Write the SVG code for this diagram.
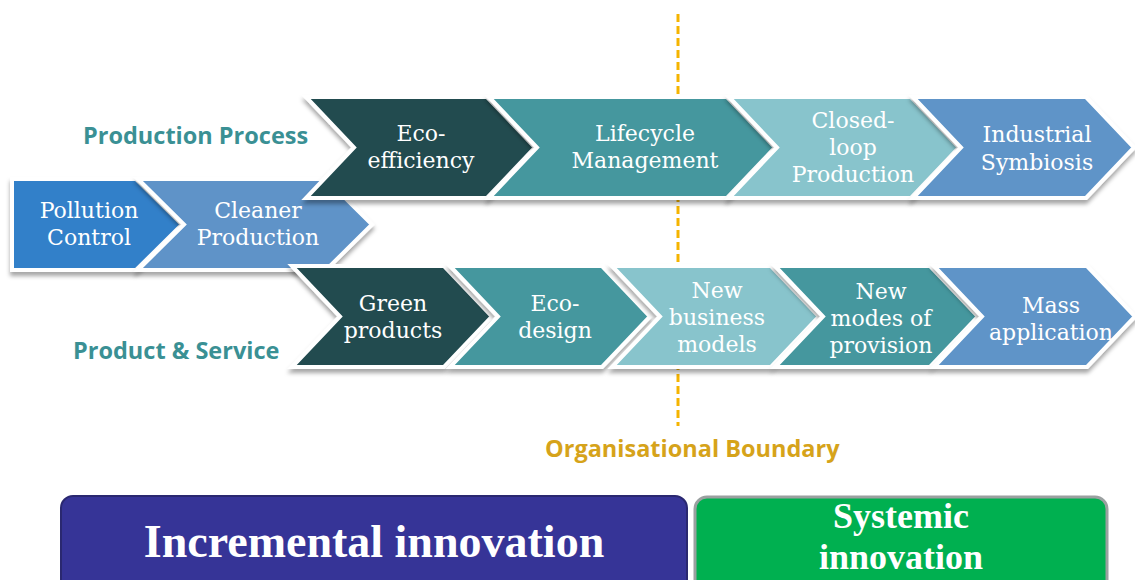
<svg xmlns="http://www.w3.org/2000/svg" width="1135" height="580" viewBox="0 0 1135 580">
<defs>
<filter id="sh" x="-10%" y="-20%" width="120%" height="150%">
<feDropShadow dx="0" dy="4" stdDeviation="2" flood-color="#000" flood-opacity="0.35"/>
</filter>
<style>
.chev{stroke:#fff;stroke-width:4;stroke-linejoin:miter;filter:url(#sh)}
.t{font-family:Georgia,"DejaVu Serif",serif;font-size:22px;fill:#fff;text-anchor:middle}
.lbl{font-family:"Open Sans","Noto Sans",sans-serif;font-weight:bold;font-size:23.5px;fill:#3A9094}
.big{font-family:"Liberation Serif","Times New Roman",serif;font-weight:bold;fill:#fff;text-anchor:middle;font-size:46px}
.sys{font-size:36px}
</style>
</defs>
<rect width="1135" height="580" fill="#fff"/>
<g id="connectors">
<line x1="678" y1="14" x2="678" y2="426" stroke="#F5B400" stroke-width="3" stroke-dasharray="8,4"/>
</g>
<g id="pollution-control">
<polygon class="chev" fill="#3180C9" points="12,179 136,179 182,224.5 136,270 12,270"/>
<text class="t" x="89" y="218">Pollution</text>
<text class="t" x="89" y="245">Control</text>
</g>
<g id="cleaner-production">
<polygon class="chev" fill="#5E93C8" points="138,179 326,179 372,224.5 326,270 138,270 184,224.5"/>
<text class="t" x="258" y="218">Cleaner</text>
<text class="t" x="258" y="245">Production</text>
</g>
<g id="eco-efficiency">
<polygon class="chev" fill="#224B50" points="306,97 487,97 535,147.5 487,198 306,198 354,147.5"/>
<text class="t" x="421" y="141">Eco-</text>
<text class="t" x="421" y="168">efficiency</text>
</g>
<g id="lifecycle-management">
<polygon class="chev" fill="#45979E" points="489,97 727,97 775,147.5 727,198 489,198 537,147.5"/>
<text class="t" x="645" y="141">Lifecycle</text>
<text class="t" x="645" y="168">Management</text>
</g>
<g id="closed-loop-production">
<polygon class="chev" fill="#88C4CC" points="729,97 911,97 959,147.5 911,198 729,198 777,147.5"/>
<text class="t" x="853" y="128">Closed-</text>
<text class="t" x="853" y="155">loop</text>
<text class="t" x="853" y="182">Production</text>
</g>
<g id="industrial-symbiosis">
<polygon class="chev" fill="#5E94C8" points="913,97 1086,97 1134,147.5 1086,198 913,198 961,147.5"/>
<text class="t" x="1037" y="142">Industrial</text>
<text class="t" x="1037" y="170">Symbiosis</text>
</g>
<g id="green-products">
<polygon class="chev" fill="#224B50" points="292,266 444,266 492,316.5 444,367 292,367 340,316.5"/>
<text class="t" x="393" y="311">Green</text>
<text class="t" x="393" y="338">products</text>
</g>
<g id="eco-design">
<polygon class="chev" fill="#45979E" points="450,266 602,266 650,316.5 602,367 450,367 498,316.5"/>
<text class="t" x="555" y="311">Eco-</text>
<text class="t" x="555" y="338">design</text>
</g>
<g id="new-business-models">
<polygon class="chev" fill="#88C4CC" points="612,266 771,266 819,316.5 771,367 612,367 660,316.5"/>
<text class="t" x="717" y="298">New</text>
<text class="t" x="717" y="325">business</text>
<text class="t" x="717" y="352">models</text>
</g>
<g id="new-modes-of-provision">
<polygon class="chev" fill="#45979E" points="775,266 930,266 978,316.5 930,367 775,367 823,316.5"/>
<text class="t" x="881" y="299">New</text>
<text class="t" x="881" y="326">modes of</text>
<text class="t" x="881" y="353">provision</text>
</g>
<g id="mass-application">
<polygon class="chev" fill="#5E94C8" points="934,266 1087,266 1135,316.5 1087,367 934,367 982,316.5"/>
<text class="t" x="1051" y="313">Mass</text>
<text class="t" x="1051" y="340">application</text>
</g>
<g id="labels">
<text class="lbl" x="83" y="144">Production Process</text>
<text class="lbl" x="73" y="359">Product &amp; Service</text>
<text class="lbl" x="545" y="457" style="fill:#D6A31A">Organisational Boundary</text>
</g>
<g id="incremental-innovation">
<rect x="61" y="496" width="626" height="100" rx="12" fill="#363497" stroke="#2A2870" stroke-width="2"/>
<text class="big" x="374" y="557">Incremental innovation</text>
</g>
<g id="systemic-innovation">
<rect x="695" y="497" width="412" height="100" rx="12" fill="#00B050" stroke="#9AA0A0" stroke-width="3"/>
<text class="big sys" x="901" y="528">Systemic</text>
<text class="big sys" x="901" y="569">innovation</text>
</g>
</svg>
